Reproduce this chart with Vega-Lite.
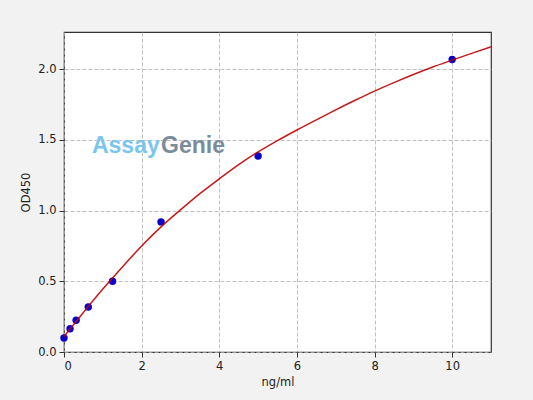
{
  "$schema": "https://vega.github.io/schema/vega-lite/v6.json",
  "width": 427,
  "height": 320,
  "autosize": {"type": "none"},
  "padding": {"left": 64, "top": 32, "right": 42, "bottom": 48},
  "background": "#f2f2f2",
  "config": {
    "view": {"fill": "white", "stroke": "#333333", "strokeWidth": 1.2},
    "font": "DejaVu Sans",
    "axis": {
      "labelFont": "DejaVu Sans",
      "titleFont": "DejaVu Sans",
      "labelFontSize": 11.5,
      "titleFontSize": 11.5,
      "titleFontWeight": "normal",
      "labelColor": "#222222",
      "titleColor": "#222222",
      "domain": false,
      "tickColor": "#333333",
      "tickSize": 5,
      "labelPadding": 3,
      "grid": true,
      "gridColor": "#b0b0b0",
      "gridDash": [4, 2],
      "gridWidth": 0.8
    }
  },
  "datasets": {
    "standards": [
      {"conc": 0, "od": 0.099},
      {"conc": 0.156, "od": 0.165},
      {"conc": 0.3125, "od": 0.224},
      {"conc": 0.625, "od": 0.318},
      {"conc": 1.25, "od": 0.5},
      {"conc": 2.5, "od": 0.92},
      {"conc": 5, "od": 1.386},
      {"conc": 10, "od": 2.068}
    ],
    "fit": [
      {"conc": 0, "od": 0.11},
      {"conc": 0.5, "od": 0.28},
      {"conc": 1, "od": 0.445},
      {"conc": 1.5, "od": 0.6},
      {"conc": 2, "od": 0.75},
      {"conc": 2.5, "od": 0.885},
      {"conc": 3, "od": 1.005},
      {"conc": 3.5, "od": 1.12},
      {"conc": 4, "od": 1.225},
      {"conc": 4.5, "od": 1.325},
      {"conc": 5, "od": 1.415},
      {"conc": 5.5, "od": 1.495},
      {"conc": 6, "od": 1.57},
      {"conc": 6.5, "od": 1.642},
      {"conc": 7, "od": 1.712},
      {"conc": 7.5, "od": 1.78},
      {"conc": 8, "od": 1.845},
      {"conc": 8.5, "od": 1.905},
      {"conc": 9, "od": 1.962},
      {"conc": 9.5, "od": 2.015},
      {"conc": 10, "od": 2.064},
      {"conc": 10.5, "od": 2.112},
      {"conc": 11, "od": 2.158}
    ],
    "watermark": [
      {"word": "Assay", "conc": 0.72, "od": 1.407},
      {"word": "Genie", "conc": 2.5, "od": 1.407}
    ]
  },
  "encoding": {
    "x": {
      "field": "conc",
      "type": "quantitative",
      "title": "ng/ml",
      "scale": {"domain": [0, 11], "nice": false, "zero": false},
      "axis": {"values": [0, 2, 4, 6, 8, 10], "format": "d", "titlePadding": 5}
    },
    "y": {
      "field": "od",
      "type": "quantitative",
      "title": "OD450",
      "scale": {"domain": [0, 2.263], "nice": false, "zero": false},
      "axis": {"values": [0, 0.5, 1, 1.5, 2], "format": ".1f", "titlePadding": 6}
    }
  },
  "layer": [
    {
      "data": {"name": "watermark"},
      "mark": {"type": "text", "align": "left", "baseline": "alphabetic", "font": "Liberation Sans", "fontSize": 23, "fontWeight": "bold"},
      "encoding": {
        "text": {"field": "word"},
        "color": {
          "field": "word",
          "type": "nominal",
          "scale": {"domain": ["Assay", "Genie"], "range": ["#7cc6ec", "#7b8b9b"]},
          "legend": null
        }
      }
    },
    {
      "data": {"name": "standards"},
      "mark": {"type": "point", "filled": true, "color": "#0a00cc", "size": 55, "opacity": 1, "clip": false}
    },
    {
      "data": {"name": "fit"},
      "mark": {"type": "line", "color": "#c00000", "strokeWidth": 1.5, "interpolate": "monotone", "opacity": 0.9}
    }
  ]
}
